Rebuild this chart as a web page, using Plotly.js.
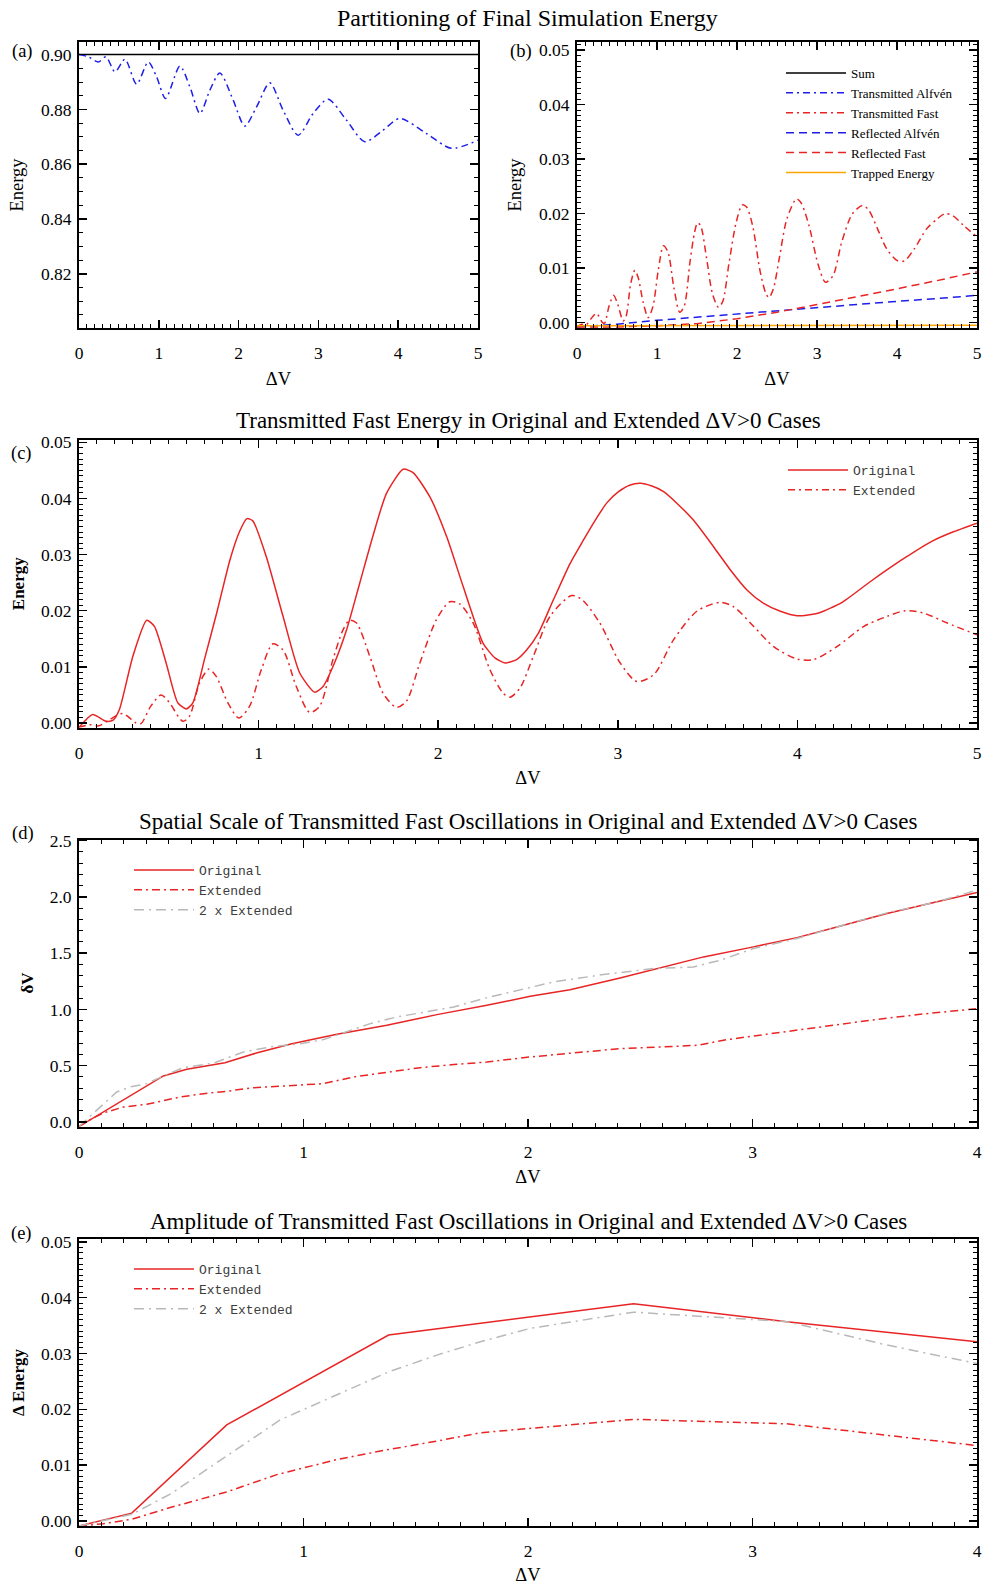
<!DOCTYPE html>
<html>
<head>
<meta charset="utf-8">
<script src="https://cdn.plot.ly/plotly-3.0.1.min.js"></script>
<style>
  html, body { margin: 0; padding: 0; background: #ffffff; }
  #chart { width: 982px; height: 1585px; }
</style>
</head>
<body>
<div id="chart"></div>
<script>
// ---------------- Data: panels (a) and (b) ----------------
const sumX = [0, 5];
const sumY = [0.9, 0.9];

const transAlfvenX = [0, 0.117, 0.242, 0.338, 0.451, 0.576, 0.722, 0.868, 0.972, 1.085, 1.265, 1.39, 1.515, 1.64, 1.765, 1.932, 2.078, 2.225, 2.391, 2.558, 2.746, 2.934, 3.122, 3.351, 3.581, 3.811, 4.019, 4.353, 4.666, 5.0];
const transAlfvenY = [0.900, 0.8992, 0.8973, 0.8992, 0.8937, 0.8983, 0.8892, 0.8973, 0.8919, 0.8840, 0.8958, 0.8882, 0.8785, 0.8870, 0.8933, 0.8834, 0.8739, 0.8809, 0.8897, 0.8797, 0.8706, 0.8785, 0.8837, 0.8761, 0.8682, 0.8724, 0.8767, 0.8712, 0.8658, 0.8688];

const transFastX = [0, 0.058, 0.11, 0.17, 0.243, 0.318, 0.345, 0.40, 0.457, 0.504, 0.578, 0.615, 0.671, 0.723, 0.764, 0.829, 0.89, 0.95, 1.015, 1.08, 1.136, 1.21, 1.284, 1.34, 1.414, 1.47, 1.507, 1.545, 1.619, 1.693, 1.768, 1.823, 1.898, 1.99, 2.065, 2.12, 2.195, 2.288, 2.362, 2.40, 2.455, 2.53, 2.623, 2.743, 2.80, 2.90, 3.013, 3.106, 3.20, 3.31, 3.44, 3.57, 3.645, 3.757, 3.868, 3.998, 4.09, 4.22, 4.37, 4.50, 4.60, 4.70, 4.835, 5.0];
const transFastY = [-0.0008, -0.0003, -0.0005, 0.0006, 0.0017, 0.0000, -0.0001, 0.0030, 0.0050, 0.0036, 0.0003, 0.0012, 0.0071, 0.0096, 0.0083, 0.0036, 0.0009, 0.0030, 0.0095, 0.0141, 0.0130, 0.0065, 0.0019, 0.0030, 0.0113, 0.0166, 0.0183, 0.0178, 0.0119, 0.0053, 0.0028, 0.0039, 0.0107, 0.0184, 0.0216, 0.0212, 0.0178, 0.0095, 0.0053, 0.0046, 0.0062, 0.0119, 0.0190, 0.0227, 0.0220, 0.0178, 0.0107, 0.0074, 0.0086, 0.0148, 0.0199, 0.0215, 0.0207, 0.0172, 0.0136, 0.0114, 0.0113, 0.0136, 0.0172, 0.0190, 0.0200, 0.0196, 0.0178, 0.0157];

const reflAlfvenX = [0, 0.5, 1, 1.5, 2, 2.5, 3, 3.5, 4, 4.5, 5];
const reflAlfvenY = [-0.0008, -0.0003, 0.0004, 0.0010, 0.0016, 0.0022, 0.0028, 0.0033, 0.0039, 0.0044, 0.0050];

const reflFastX = [0, 0.5, 1, 1.5, 2, 2.5, 3, 3.5, 4, 4.5, 5];
const reflFastY = [-0.0008, -0.0008, -0.0006, -0.0002, 0.0007, 0.0019, 0.0033, 0.0047, 0.0062, 0.0077, 0.0093];

const trappedX = [0, 1, 2, 3, 4, 5];
const trappedY = [-0.0006, -0.0006, -0.0005, -0.0005, -0.0005, -0.0005];

// ---------------- Data: panel (c) ----------------
const origEnergyX = [0, 0.076, 0.15, 0.19, 0.225, 0.30, 0.377, 0.42, 0.485, 0.55, 0.597, 0.634, 0.70, 0.77, 0.84, 0.894, 0.935, 0.968, 1.043, 1.136, 1.229, 1.312, 1.359, 1.42, 1.49, 1.563, 1.641, 1.712, 1.805, 1.86, 1.953, 2.047, 2.139, 2.25, 2.316, 2.372, 2.437, 2.49, 2.558, 2.641, 2.734, 2.809, 2.874, 2.939, 3.004, 3.069, 3.125, 3.19, 3.255, 3.33, 3.422, 3.533, 3.626, 3.719, 3.812, 3.905, 3.998, 4.119, 4.249, 4.407, 4.593, 4.751, 4.872, 5.0];
const origEnergyY = [-0.0008, 0.0015, 0.0003, 0.0005, 0.0024, 0.0119, 0.0183, 0.0172, 0.0107, 0.0036, 0.0025, 0.0036, 0.0115, 0.0200, 0.0290, 0.0341, 0.0364, 0.0360, 0.0296, 0.0190, 0.0089, 0.0055, 0.0065, 0.0105, 0.0166, 0.0249, 0.0338, 0.0409, 0.0452, 0.0446, 0.0403, 0.0332, 0.0243, 0.0142, 0.0116, 0.0107, 0.0113, 0.0129, 0.0160, 0.0219, 0.0284, 0.0326, 0.0361, 0.0392, 0.0412, 0.0424, 0.0427, 0.0422, 0.0412, 0.0391, 0.0361, 0.0314, 0.0273, 0.0237, 0.0213, 0.0199, 0.0191, 0.0196, 0.0215, 0.0252, 0.0293, 0.0324, 0.0341, 0.0356];
const extEnergyX = transFastX;
const extEnergyY = transFastY;

// ---------------- Data: panel (d) ----------------
const scaleOrigX = [0, 0.376, 0.48, 0.65, 0.79, 0.948, 1.149, 1.371, 1.594, 1.817, 2.01, 2.187, 2.41, 2.603, 2.782, 3.004, 3.198, 3.376, 3.599, 3.822, 4.0];
const scaleOrigY = [-0.04, 0.409, 0.468, 0.527, 0.613, 0.696, 0.779, 0.859, 0.954, 1.037, 1.117, 1.176, 1.28, 1.378, 1.467, 1.556, 1.638, 1.733, 1.852, 1.956, 2.039];
const scaleExtX = [0, 0.049, 0.108, 0.198, 0.302, 0.376, 0.45, 0.554, 0.658, 0.762, 0.881, 0.98, 1.089, 1.223, 1.371, 1.52, 1.669, 1.817, 2.01, 2.187, 2.41, 2.588, 2.752, 2.886, 3.079, 3.302, 3.525, 3.747, 4.0];
const scaleExtY = [-0.04, 0.02, 0.08, 0.133, 0.157, 0.187, 0.222, 0.252, 0.273, 0.302, 0.317, 0.326, 0.341, 0.40, 0.444, 0.483, 0.51, 0.533, 0.578, 0.613, 0.652, 0.667, 0.681, 0.732, 0.785, 0.844, 0.904, 0.957, 1.007];
const scale2ExtX = [0, 0.079, 0.168, 0.227, 0.302, 0.376, 0.465, 0.6, 0.733, 0.851, 0.985, 1.089, 1.193, 1.297, 1.416, 1.535, 1.669, 1.817, 2.01, 2.113, 2.336, 2.559, 2.737, 2.856, 3.004, 3.198, 3.376, 3.599, 3.822, 4.0];
const scale2ExtY = [-0.04, 0.104, 0.267, 0.311, 0.341, 0.409, 0.483, 0.524, 0.622, 0.667, 0.696, 0.732, 0.80, 0.874, 0.933, 0.978, 1.022, 1.105, 1.2, 1.244, 1.31, 1.363, 1.378, 1.437, 1.541, 1.63, 1.733, 1.858, 1.956, 2.06];

// ---------------- Data: panel (e) ----------------
const ampOrigX = [0, 0.235, 0.658, 1.379, 2.47, 3.153, 4.0];
const ampOrigY = [-0.0009, 0.0014, 0.0172, 0.0333, 0.0389, 0.0357, 0.0321];
const ampExtX = [0, 0.108, 0.235, 0.406, 0.658, 0.881, 1.0, 1.149, 1.379, 1.594, 1.788, 2.01, 2.47, 3.153, 4.0];
const ampExtY = [-0.0009, -0.0005, 0.0003, 0.0024, 0.0052, 0.0083, 0.0095, 0.0110, 0.0128, 0.0143, 0.0158, 0.0166, 0.0182, 0.0174, 0.0135];
const amp2ExtX = [0, 0.235, 0.406, 0.658, 0.896, 1.149, 1.379, 1.594, 1.788, 2.01, 2.47, 3.153, 3.6, 4.0];
const amp2ExtY = [-0.0009, 0.0012, 0.0048, 0.0116, 0.0181, 0.0226, 0.0267, 0.0297, 0.0321, 0.0345, 0.0374, 0.0357, 0.0315, 0.0282];

// ---------------- Labels ----------------
const mainTitle = 'Partitioning of Final Simulation Energy';
const titleC = 'Transmitted Fast Energy in Original and Extended ΔV>0 Cases';
const titleD = 'Spatial Scale of Transmitted Fast Oscillations in Original and Extended ΔV>0 Cases';
const titleE = 'Amplitude of Transmitted Fast Oscillations in Original and Extended ΔV>0 Cases';
const legendNamesB = ['Sum', 'Transmitted Alfvén', 'Transmitted Fast', 'Reflected Alfvén', 'Reflected Fast', 'Trapped Energy'];
const legendNamesCDE = ['Original', 'Extended', '2 x Extended'];
const panelLabels = ['(a)', '(b)', '(c)', '(d)', '(e)'];

// ---------------- Styling ----------------
const W = 982, H = 1585;
const SERIF = '"Liberation Serif", "Times New Roman", Times, serif';
const MONO = '"Courier New", "Liberation Mono", "DejaVu Sans Mono", monospace';
const RED = 'rgb(232,36,36)';
const BLUE = 'rgb(30,30,235)';
const GRAY = 'rgb(185,185,185)';
const ORANGE = 'rgb(255,165,0)';
const DASHDOT = '7px,4px,2px,4px';
const DASHED = '8px,5px';
const GRAYDASH = '10px,5px,2px,5px';

const px = v => v / W;
const py = v => 1 - v / H;

function tr(x, y, name, color, dash, xa, ya, opts) {
  return Object.assign({
    type: 'scatter', mode: 'lines', x: x, y: y, name: name,
    xaxis: xa, yaxis: ya,
    line: {color: color, width: 1.5, dash: dash},
    hoverinfo: 'skip'
  }, opts || {});
}

const data = [
  // (a)
  tr(sumX, sumY, legendNamesB[0], 'black', 'solid', 'x', 'y', {showlegend: false}),
  tr(transAlfvenX, transAlfvenY, legendNamesB[1], BLUE, DASHDOT, 'x', 'y', {showlegend: false, line: {color: BLUE, width: 1.5, dash: DASHDOT, shape: 'spline', smoothing: 0.8}}),
  tr(transFastX, transFastY, legendNamesB[2], RED, DASHDOT, 'x', 'y', {showlegend: false, line: {color: RED, width: 1.5, dash: DASHDOT, shape: 'spline', smoothing: 0.8}}),
  tr(reflAlfvenX, reflAlfvenY, legendNamesB[3], BLUE, DASHED, 'x', 'y', {showlegend: false}),
  tr(reflFastX, reflFastY, legendNamesB[4], RED, DASHED, 'x', 'y', {showlegend: false}),
  tr(trappedX, trappedY, legendNamesB[5], ORANGE, 'solid', 'x', 'y', {showlegend: false}),
  // (b)
  tr(sumX, sumY, legendNamesB[0], 'black', 'solid', 'x2', 'y2', {legend: 'legend'}),
  tr(transAlfvenX, transAlfvenY, legendNamesB[1], BLUE, DASHDOT, 'x2', 'y2', {legend: 'legend', line: {color: BLUE, width: 1.5, dash: DASHDOT, shape: 'spline', smoothing: 0.8}}),
  tr(transFastX, transFastY, legendNamesB[2], RED, DASHDOT, 'x2', 'y2', {legend: 'legend', line: {color: RED, width: 1.5, dash: DASHDOT, shape: 'spline', smoothing: 0.8}}),
  tr(reflAlfvenX, reflAlfvenY, legendNamesB[3], BLUE, DASHED, 'x2', 'y2', {legend: 'legend'}),
  tr(reflFastX, reflFastY, legendNamesB[4], RED, DASHED, 'x2', 'y2', {legend: 'legend'}),
  tr(trappedX, trappedY, legendNamesB[5], ORANGE, 'solid', 'x2', 'y2', {legend: 'legend'}),
  // (c)
  tr(origEnergyX, origEnergyY, legendNamesCDE[0], RED, 'solid', 'x3', 'y3', {legend: 'legend2', line: {color: RED, width: 1.5, dash: 'solid', shape: 'spline', smoothing: 0.6}}),
  tr(extEnergyX, extEnergyY, legendNamesCDE[1], RED, DASHDOT, 'x3', 'y3', {legend: 'legend2', line: {color: RED, width: 1.5, dash: DASHDOT, shape: 'spline', smoothing: 0.8}}),
  // (d)
  tr(scaleOrigX, scaleOrigY, legendNamesCDE[0], RED, 'solid', 'x4', 'y4', {legend: 'legend3'}),
  tr(scaleExtX, scaleExtY, legendNamesCDE[1], RED, '8px,4px,2px,4px', 'x4', 'y4', {legend: 'legend3'}),
  tr(scale2ExtX, scale2ExtY, legendNamesCDE[2], GRAY, GRAYDASH, 'x4', 'y4', {legend: 'legend3'}),
  // (e)
  tr(ampOrigX, ampOrigY, legendNamesCDE[0], RED, 'solid', 'x5', 'y5', {legend: 'legend4'}),
  tr(ampExtX, ampExtY, legendNamesCDE[1], RED, '8px,4px,2px,4px', 'x5', 'y5', {legend: 'legend4'}),
  tr(amp2ExtX, amp2ExtY, legendNamesCDE[2], GRAY, GRAYDASH, 'x5', 'y5', {legend: 'legend4'})
];

function axis(isX, domain, range, anchor, dtick, minorDtick, fmt, titleText, titleBold) {
  return {
    domain: domain, range: range, anchor: anchor,
    autorange: false, fixedrange: true, automargin: false,
    showline: true, linecolor: 'black', linewidth: 2, mirror: 'allticks',
    ticks: 'inside', ticklen: 8, tickwidth: 1.5, tickcolor: 'black',
    tickmode: 'linear', tick0: 0, dtick: dtick, tickformat: fmt,
    tickfont: {family: SERIF, size: 17.5, color: 'black'},
    ticklabelstandoff: isX ? 8 : 2,
    minor: {ticks: 'inside', ticklen: 4, tickwidth: 1, tickcolor: 'black', dtick: minorDtick, tick0: 0, showgrid: false},
    showgrid: false, zeroline: false,
    title: {
      text: titleText,
      font: {family: SERIF, size: titleBold ? 17 : 18.5, color: 'black', weight: titleBold ? 'bold' : 'normal'},
      standoff: isX ? 10 : 12
    }
  };
}

const xA = [px(79), px(478)], xB = [px(577), px(977)], xW = [px(79), px(977)];
const yAB = [py(328), py(42)];
const yC = [py(727.5), py(440)];
const yD = [py(1126.5), py(839.5)];
const yE = [py(1526), py(1239)];

const legendCommon = {xanchor: 'left', yanchor: 'top', bgcolor: 'rgba(0,0,0,0)', borderwidth: 0, itemwidth: 60, traceorder: 'normal', itemclick: false, itemdoubleclick: false};

function ann(text, x, y, size) {
  return {text: text, x: px(x), y: py(y), xref: 'paper', yref: 'paper', xanchor: 'center', yanchor: 'middle', showarrow: false, font: {family: SERIF, size: size, color: 'black'}};
}

const layout = {
  width: W, height: H,
  margin: {l: 0, r: 0, t: 0, b: 0, pad: 0},
  paper_bgcolor: 'white', plot_bgcolor: 'white',
  font: {family: SERIF, color: 'black'},
  xaxis: axis(true, xA, [0, 5], 'y', 1, 0.1, 'd', 'ΔV', false),
  yaxis: axis(false, yAB, [0.8002, 0.9046], 'x', 0.02, 0.005, '.2f', 'Energy', false),
  xaxis2: axis(true, xB, [0, 5], 'y2', 1, 0.1, 'd', 'ΔV', false),
  yaxis2: axis(false, yAB, [-0.001, 0.0515], 'x2', 0.01, 0.001, '.2f', 'Energy', false),
  xaxis3: axis(true, xW, [0, 5], 'y3', 1, 0.1, 'd', 'ΔV', false),
  yaxis3: axis(false, yC, [-0.0008, 0.0504], 'x3', 0.01, 0.001, '.2f', 'Energy', true),
  xaxis4: axis(true, xW, [0, 4], 'y4', 1, 0.1, 'd', 'ΔV', false),
  yaxis4: axis(false, yD, [-0.04, 2.51], 'x4', 0.5, 0.1, '.1f', 'δV', true),
  xaxis5: axis(true, xW, [0, 4], 'y5', 1, 0.1, 'd', 'ΔV', false),
  yaxis5: axis(false, yE, [-0.0009, 0.0505], 'x5', 0.01, 0.001, '.2f', 'Δ Energy', true),
  legend: Object.assign({}, legendCommon, {x: px(781), y: py(58), font: {family: SERIF, size: 13, color: 'black'}}),
  legend2: Object.assign({}, legendCommon, {x: px(783), y: py(455), font: {family: MONO, size: 13, color: 'rgb(60,60,60)'}}),
  legend3: Object.assign({}, legendCommon, {x: px(129), y: py(855), font: {family: MONO, size: 13, color: 'rgb(60,60,60)'}}),
  legend4: Object.assign({}, legendCommon, {x: px(129), y: py(1254), font: {family: MONO, size: 13, color: 'rgb(60,60,60)'}}),
  showlegend: true,
  annotations: [
    ann(mainTitle, 527, 18, 24),
    ann(titleC, 528, 421, 23),
    ann(titleD, 528, 821, 23),
    ann(titleE, 528, 1221, 23),
    ann(panelLabels[0], 22, 52, 18.5),
    ann(panelLabels[1], 521, 52, 18.5),
    ann(panelLabels[2], 21, 453, 18.5),
    ann(panelLabels[3], 23, 833, 18.5),
    ann(panelLabels[4], 21, 1233, 18.5)
  ]
};

Plotly.newPlot('chart', data, layout, {staticPlot: true, displayModeBar: false});
</script>
</body>
</html>
